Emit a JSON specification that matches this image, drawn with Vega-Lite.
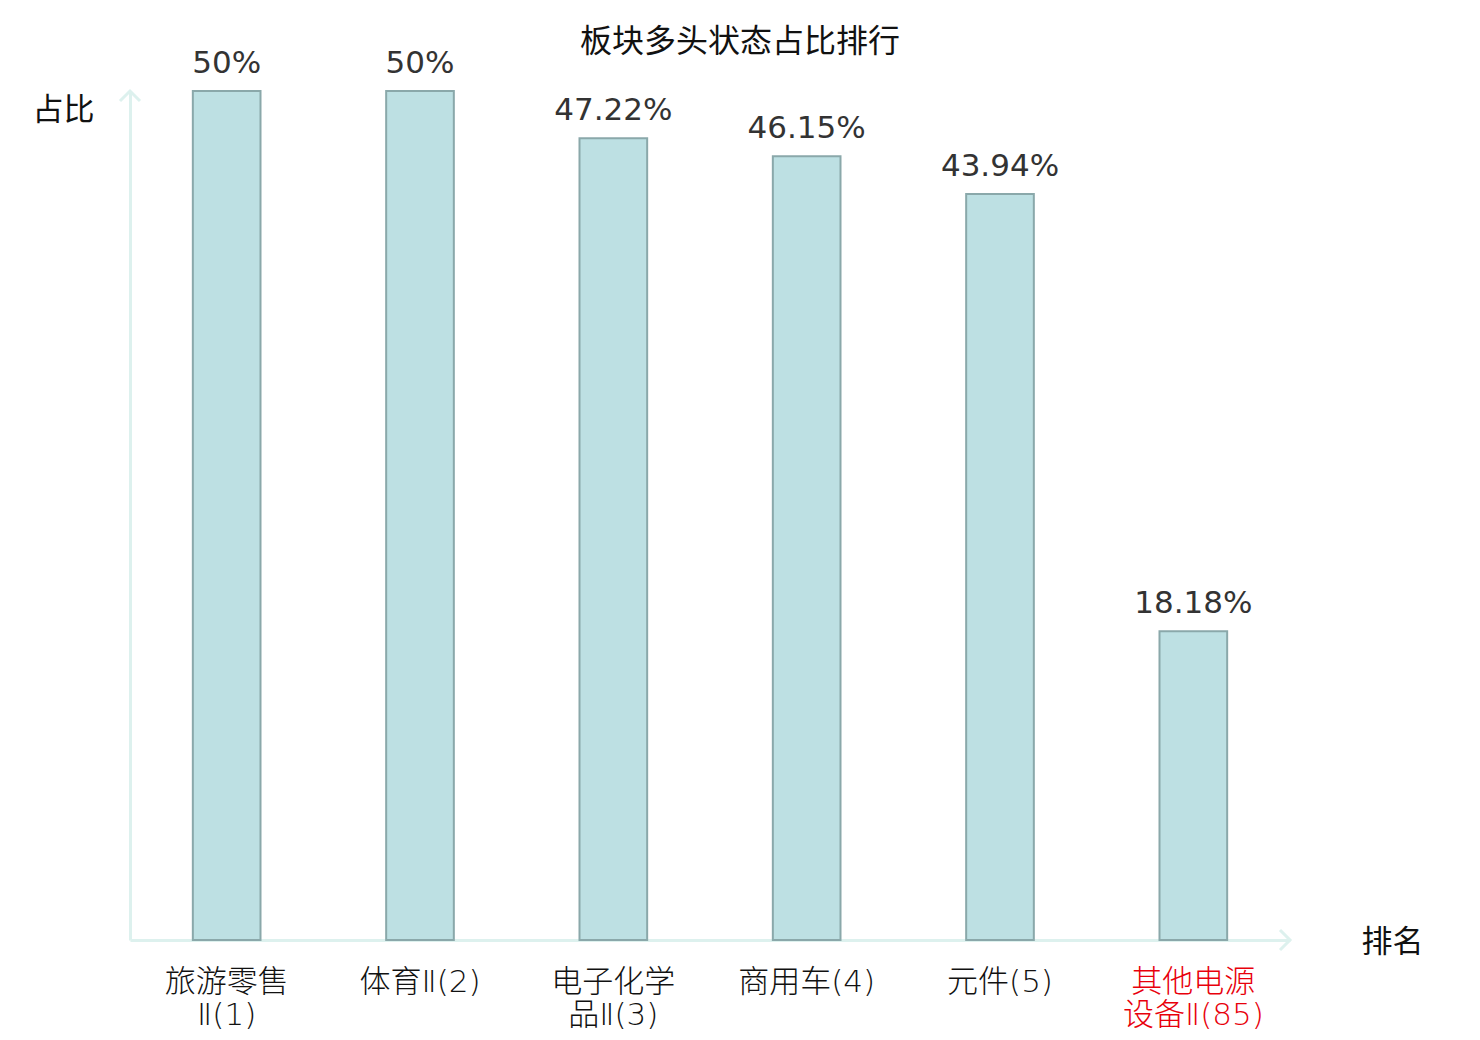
{
  "$schema": "https://vega.github.io/schema/vega-lite/v6.json",
  "width": 1160,
  "height": 849,
  "autosize": {"type": "none"},
  "padding": {"left": 130, "top": 91, "right": 190, "bottom": 100},
  "background": "white",
  "title": {
    "text": "板块多头状态占比排行",
    "font": "Noto Sans CJK SC",
    "fontSize": 32,
    "fontWeight": "normal",
    "color": "#111111",
    "anchor": "middle",
    "dx": 30,
    "baseline": "middle",
    "offset": -26
  },
  "config": {
    "view": {"stroke": null}
  },
  "data": {
    "values": [
      {"name": "旅游零售Ⅱ(1)", "ratio": 0.5},
      {"name": "体育Ⅱ(2)", "ratio": 0.5},
      {"name": "电子化学品Ⅱ(3)", "ratio": 0.4722},
      {"name": "商用车(4)", "ratio": 0.4615},
      {"name": "元件(5)", "ratio": 0.4394},
      {"name": "其他电源设备Ⅱ(85)", "ratio": 0.1818}
    ]
  },
  "layer": [
    {
      "mark": {
        "type": "bar",
        "fill": "#bde0e3",
        "stroke": "#8aa8aa",
        "strokeWidth": 2
      },
      "encoding": {
        "x": {
          "field": "name",
          "type": "nominal",
          "sort": null,
          "scale": {"paddingInner": 0.65, "paddingOuter": 0.325},
          "axis": {
            "title": "排名",
            "titleFont": "Noto Sans CJK SC",
            "titleFontSize": 31,
            "titleFontWeight": "normal",
            "titleColor": "#111111",
            "titleAngle": 0,
            "titleX": 1262,
            "titleY": 2,
            "titleAlign": "center",
            "titleBaseline": "middle",
            "labelAngle": 0,
            "labelFont": "DejaVu Sans, Noto Sans CJK SC",
            "labelFontWeight": 300,
            "labelFontSize": 31,
            "labelLineHeight": 33,
            "labelPadding": 27,
            "labelBaseline": "top",
            "labelColor": {
              "condition": {"test": "datum.value == '其他电源设备Ⅱ(85)'", "value": "#e8000b"},
              "value": "#111111"
            },
            "labelExpr": "length(datum.label) > 7 ? [substring(datum.label, 0, 4), substring(datum.label, 4)] : datum.label",
            "ticks": false,
            "domainColor": "#ddf1ee",
            "domainWidth": 3
          }
        },
        "y": {
          "field": "ratio",
          "type": "quantitative",
          "scale": {"domain": [0, 0.5], "nice": false},
          "axis": {
            "title": "占比",
            "titleFont": "Noto Sans CJK SC",
            "titleFontSize": 31,
            "titleFontWeight": "normal",
            "titleColor": "#111111",
            "titleAngle": 0,
            "titleX": -67,
            "titleY": 19,
            "titleAlign": "center",
            "titleBaseline": "middle",
            "labels": false,
            "ticks": false,
            "grid": false,
            "domainColor": "#ddf1ee",
            "domainWidth": 3
          }
        }
      }
    },
    {
      "mark": {
        "type": "text",
        "font": "DejaVu Sans",
        "fontSize": 31,
        "color": "#333333",
        "baseline": "alphabetic",
        "dy": -18
      },
      "encoding": {
        "x": {"field": "name", "type": "nominal", "sort": null},
        "y": {"field": "ratio", "type": "quantitative"},
        "text": {"field": "ratio", "type": "quantitative", "format": ".4~%"}
      }
    },
    {
      "data": {"values": [{"end": "x"}]},
      "mark": {
        "type": "point",
        "x": "width",
        "y": "height",
        "shape": "M -1 -1 L 0 0 L -1 1",
        "size": 400,
        "filled": false,
        "stroke": "#ddf1ee",
        "strokeWidth": 3,
        "opacity": 1
      },
      "encoding": {}
    },
    {
      "data": {"values": [{"end": "y"}]},
      "mark": {
        "type": "point",
        "x": 0,
        "y": 0,
        "shape": "M -1 1 L 0 0 L 1 1",
        "size": 400,
        "filled": false,
        "stroke": "#ddf1ee",
        "strokeWidth": 3,
        "opacity": 1
      },
      "encoding": {}
    }
  ]
}
